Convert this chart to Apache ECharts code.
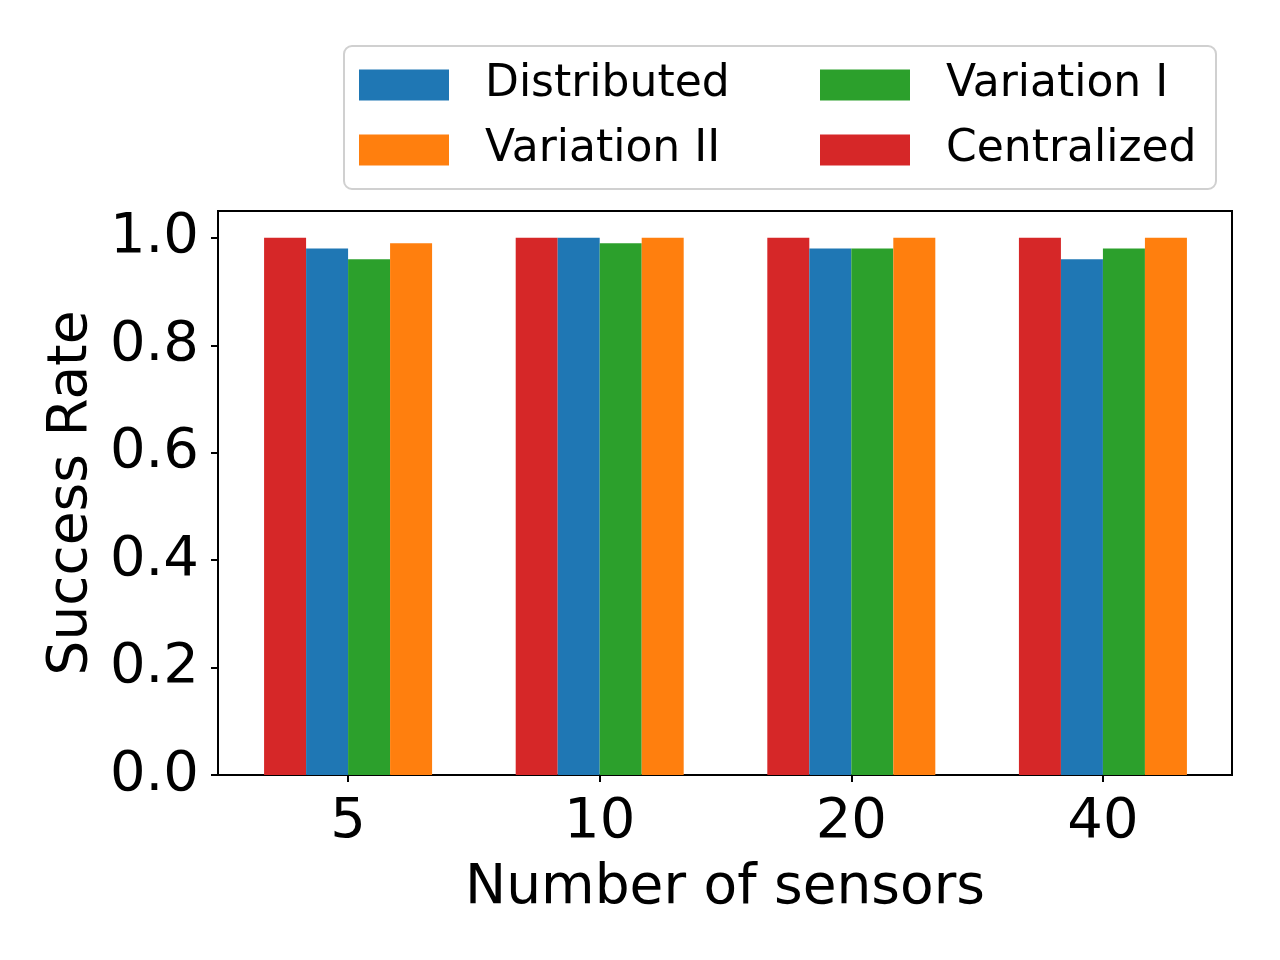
<!DOCTYPE html>
<html>
<head>
<meta charset="utf-8">
<script src="https://cdn.jsdelivr.net/npm/echarts@6/dist/echarts.min.js"></script>
<style>
html,body{margin:0;padding:0;background:#fff;}
#chart{width:1280px;height:960px;}
</style>
</head>
<body>
<div id="chart"></div>
<script>
const categories = ['5', '10', '20', '40'];
const centralized = [1.0, 1.0, 1.0, 1.0];
const distributed = [0.98, 1.0, 0.98, 0.96];
const variation1 = [0.96, 0.99, 0.98, 0.98];
const variation2 = [0.99, 1.0, 1.0, 1.0];
const yTicks = [0, 0.2, 0.4, 0.6, 0.8, 1.0];

const FONT = 'DejaVu Sans';
const chart = echarts.init(document.getElementById('chart'), null, {renderer: 'canvas'});

const xIdx = categories.map((c, i) => i);
const pairs = arr => arr.map((v, i) => [i, v]);

const legendCommon = {
  orient: 'vertical',
  icon: 'rect',
  itemWidth: 90,
  itemHeight: 31,
  itemGap: 21,
  textStyle: {fontFamily: FONT, fontSize: 44, color: '#000', lineHeight: 44, padding: [0, 0, 0, 31]}
};

chart.setOption({
  animation: false,
  backgroundColor: '#fff',
  graphic: [{
    type: 'rect',
    left: 343, top: 45,
    shape: {width: 872, height: 143, r: 8},
    style: {fill: '#fff', stroke: '#d0d0d0', lineWidth: 2},
    z: -1
  }],
  legend: [
    Object.assign({left: 354, top: 58, data: ['Distributed', 'Variation II']}, legendCommon),
    Object.assign({left: 815, top: 58, data: ['Variation I', 'Centralized']}, legendCommon)
  ],
  grid: {left: 218, top: 211, right: 48, bottom: 185, show: true, borderColor: '#000', borderWidth: 2},
  xAxis: {
    type: 'value',
    min: -0.517,
    max: 3.513,
    name: 'Number of sensors',
    nameLocation: 'middle',
    nameGap: 86,
    nameTextStyle: {fontFamily: FONT, fontSize: 55, color: '#000'},
    splitLine: {show: false},
    axisLine: {onZero: false, lineStyle: {color: '#000', width: 2}},
    axisTick: {length: 7, lineStyle: {color: '#000', width: 2}, customValues: xIdx},
    axisLabel: {fontFamily: FONT, fontSize: 56, color: '#000', margin: 19, customValues: xIdx,
      formatter: v => categories[Math.round(v)]}
  },
  yAxis: {
    type: 'value',
    min: 0,
    max: 1.05,
    name: 'Success Rate',
    nameLocation: 'middle',
    nameGap: 118,
    nameTextStyle: {fontFamily: FONT, fontSize: 55, color: '#000'},
    splitLine: {show: false},
    axisLine: {show: true, onZero: false, lineStyle: {color: '#000', width: 2}},
    axisTick: {show: true, length: 7, lineStyle: {color: '#000', width: 2}, customValues: yTicks},
    axisLabel: {fontFamily: FONT, fontSize: 56, color: '#000', margin: 19, customValues: yTicks,
      formatter: v => v.toFixed(1)}
  },
  series: [
    {name: 'Centralized', type: 'bar', data: pairs(centralized), barWidth: 42, barGap: '0%', itemStyle: {color: '#d62728'}},
    {name: 'Distributed', type: 'bar', data: pairs(distributed), barWidth: 42, barGap: '0%', itemStyle: {color: '#1f77b4'}},
    {name: 'Variation I', type: 'bar', data: pairs(variation1), barWidth: 42, barGap: '0%', itemStyle: {color: '#2ca02c'}},
    {name: 'Variation II', type: 'bar', data: pairs(variation2), barWidth: 42, barGap: '0%', itemStyle: {color: '#ff7f0e'}}
  ]
});
</script>
</body>
</html>
